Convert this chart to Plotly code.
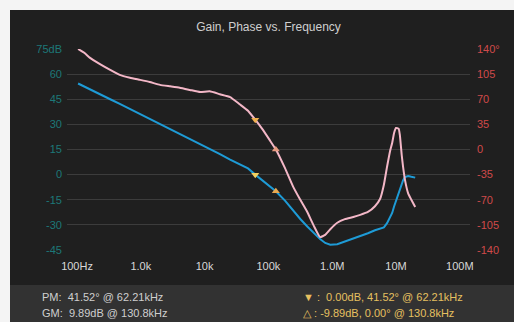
import plotly.graph_objects as go

# ---- data ----
freq_hz = [104, 133, 158, 229, 331, 468, 676, 977, 1380, 2000, 2880, 4070, 5890, 8510,
           12000, 17400, 25100, 35500, 47900, 62210, 79400, 105000, 130800, 182000, 245000,
           316000, 407000, 513000, 646000, 776000, 933000, 1.20e6, 1.58e6, 2.14e6, 2.75e6,
           3.63e6, 4.68e6, 5.62e6, 6.46e6, 7.24e6, 8.13e6, 8.71e6, 9.33e6, 10.0e6, 11.0e6,
           11.5e6, 12.3e6, 12.9e6, 13.8e6, 15.5e6, 17.4e6, 20.0e6]
phase_deg = [140, 134, 128, 119, 111, 104, 100, 97, 94, 90, 88, 86, 83, 80,
             81, 77, 73, 63, 54, 41.52, 29, 13, 0, -26, -52,
             -70, -87, -106, -122, -119, -111, -102, -97, -94, -91,
             -87, -79, -69, -49, -24, -1, 9, 23, 30, 29,
             20, -8, -24, -42, -61, -70, -80]
gain_db = [54.4, 52.3, 50.9, 47.9, 45.0, 42.2, 39.2, 36.2, 33.2, 30.2, 27.2, 24.3, 21.3, 18.3,
           15.3, 12.3, 9.0, 6.3, 3.7, 0.0, -3.4, -7.0, -9.89, -15.5, -21.5,
           -26.5, -31.0, -35.0, -38.5, -40.8, -41.8, -41.6, -40.0, -38.2, -36.8,
           -35.0, -33.2, -32.4, -31.5, -29.0, -25.5, -22.9, -19.0, -15.5, -10.5,
           -8.0, -5.0, -3.5, -1.5, -0.8, -1.3, -1.8]

pm_freq = 62210
pm_phase = 41.52
gm_freq = 130800
gm_gain = -9.89

x_tickvals = [1e2, 1e3, 1e4, 1e5, 1e6, 1e7, 1e8]
x_ticktext = ["100Hz", "1.0k", "10k", "100k", "1.0M", "10M", "100M"]
gain_tickvals = [75, 60, 45, 30, 15, 0, -15, -30, -45]
gain_ticktext = ["75dB", "60", "45", "30", "15", "0", "-15", "-30", "-45"]
phase_tickvals = [140, 105, 70, 35, 0, -35, -70, -105, -140]
phase_ticktext = ["140°", "105", "70", "35", "0", "-35", "-70", "-105", "-140"]

W, H = 514, 322
L, R, T, B = 67, 44, 49, 72
pw, ph = W - L - R, H - T - B

def px(x):
    return (x - L) / pw

def py(y):
    return 1 - (y - T) / ph

FONT = "Liberation Sans, Arial, sans-serif"

fig = go.Figure()
fig.add_trace(go.Scatter(x=freq_hz, y=phase_deg, yaxis="y2", mode="lines",
                         line=dict(color="#f3b7c7", width=2, shape="spline", smoothing=0.4),
                         hoverinfo="skip"))
fig.add_trace(go.Scatter(x=freq_hz, y=gain_db, yaxis="y", mode="lines",
                         line=dict(color="#1e9bd6", width=2), hoverinfo="skip"))
# markers
fig.add_trace(go.Scatter(x=[pm_freq], y=[0.0], yaxis="y", mode="markers",
                         marker=dict(symbol="triangle-down", size=7, color="#f2d060")))
fig.add_trace(go.Scatter(x=[pm_freq], y=[pm_phase], yaxis="y2", mode="markers",
                         marker=dict(symbol="triangle-down", size=7, color="#f0b050")))
fig.add_trace(go.Scatter(x=[gm_freq], y=[gm_gain], yaxis="y", mode="markers",
                         marker=dict(symbol="triangle-up", size=7, color="#e8a850")))
fig.add_trace(go.Scatter(x=[gm_freq], y=[0.0], yaxis="y2", mode="markers",
                         marker=dict(symbol="triangle-up", size=7, color="#e89a80")))

shapes = [
    dict(type="rect", xref="paper", yref="paper", x0=px(10), x1=px(W + 5), y0=py(285), y1=py(10),
         fillcolor="#1f1f1f", line=dict(width=0), layer="below"),
    dict(type="rect", xref="paper", yref="paper", x0=px(10), x1=px(W + 5), y0=py(H + 5), y1=py(285),
         fillcolor="#323232", line=dict(width=0), layer="below"),
]

annotations = [
    dict(text="PM:  41.52° @ 62.21kHz", x=px(40), y=py(297), xref="paper", yref="paper",
         xanchor="left", yanchor="middle", showarrow=False, font=dict(color="#cfcfcf", size=11, family=FONT)),
    dict(text="GM:  9.89dB @ 130.8kHz", x=px(40), y=py(313), xref="paper", yref="paper",
         xanchor="left", yanchor="middle", showarrow=False, font=dict(color="#cfcfcf", size=11, family=FONT)),
    dict(text="▼ :  0.00dB, 41.52° @ 62.21kHz", x=px(301), y=py(297), xref="paper", yref="paper",
         xanchor="left", yanchor="middle", showarrow=False, font=dict(color="#e6c060", size=11, family=FONT)),
    dict(text="△ : -9.89dB, 0.00° @ 130.8kHz", x=px(301), y=py(313), xref="paper", yref="paper",
         xanchor="left", yanchor="middle", showarrow=False, font=dict(color="#e6c060", size=11, family=FONT)),
]

fig.update_layout(
    width=W, height=H,
    margin=dict(l=L, r=R, t=T, b=B),
    paper_bgcolor="#f4f4f4",
    plot_bgcolor="rgba(0,0,0,0)",
    showlegend=False,
    font=dict(family=FONT, size=11),
    title=dict(text="Gain, Phase vs. Frequency", x=0.5, xref="paper", y=1 - 27 / H, yref="container",
               xanchor="center", yanchor="middle", font=dict(color="#cfcfcf", size=12, family=FONT)),
    xaxis=dict(type="log", range=[1.843, 8.16], tickvals=x_tickvals, ticktext=x_ticktext,
               showgrid=False, zeroline=False, showline=False, ticks="",
               tickfont=dict(color="#d8d8d8", size=11), ticklabelstandoff=8),
    yaxis=dict(range=[-45, 75], tickvals=gain_tickvals, ticktext=gain_ticktext,
               showgrid=True, gridcolor="#3c3c3c", gridwidth=1, zeroline=False, showline=False,
               ticks="", tickfont=dict(color="#1d7878", size=11), ticklabelstandoff=4),
    yaxis2=dict(range=[-140, 140], tickvals=phase_tickvals, ticktext=phase_ticktext,
                overlaying="y", side="right", showgrid=False, zeroline=False, showline=False,
                ticks="", tickfont=dict(color="#d04a4a", size=11), ticklabelstandoff=6),
    shapes=shapes,
    annotations=annotations,
)

fig.write_html("out.html", config={"displayModeBar": False, "staticPlot": True},
               post_script="document.body.style.margin='0';document.body.style.overflow='hidden';")
